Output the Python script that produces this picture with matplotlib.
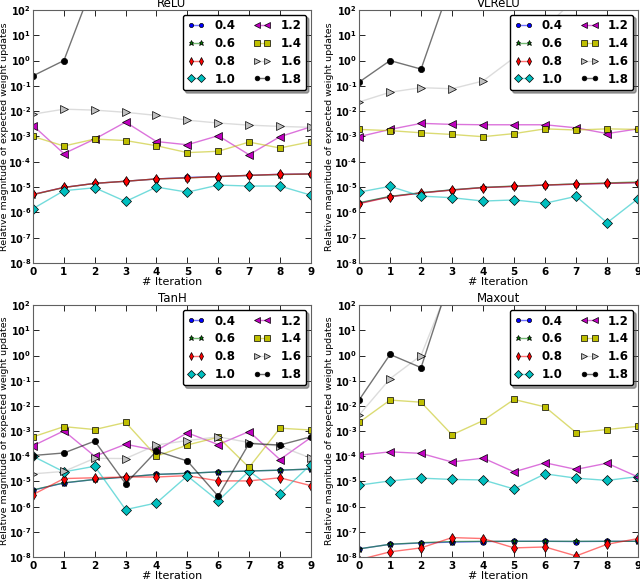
import numpy as np
import matplotlib
matplotlib.use("Agg")
from matplotlib import pyplot as plt
from matplotlib.colors import to_rgba

iters = np.arange(10)
labels = ['0.4', '0.6', '0.8', '1.0', '1.2', '1.4', '1.6', '1.8']
exponents = list(range(-8, 3))

# values (values above 1e2 / below 1e-8 are off the axes)
relu = {
    '0.4': [5.1e-6, 9.7e-6, 1.4e-5, 1.7e-5, 2.1e-5, 2.4e-5, 2.6e-5, 2.9e-5, 3.2e-5, 3.3e-5],
    '0.6': [5.0e-6, 9.6e-6, 1.4e-5, 1.7e-5, 2.1e-5, 2.3e-5, 2.6e-5, 2.9e-5, 3.1e-5, 3.3e-5],
    '0.8': [5.1e-6, 9.7e-6, 1.4e-5, 1.7e-5, 2.1e-5, 2.3e-5, 2.6e-5, 2.9e-5, 3.2e-5, 3.3e-5],
    '1.0': [1.4e-6, 7.2e-6, 9.4e-6, 2.7e-6, 1.0e-5, 6.3e-6, 1.2e-5, 1.1e-5, 1.1e-5, 4.8e-6],
    '1.2': [2.7e-3, 2.1e-4, 7.9e-4, 3.7e-3, 6.3e-4, 4.7e-4, 1.07e-3, 1.9e-4, 9.8e-4, 2.4e-3],
    '1.4': [1.0e-3, 4.2e-4, 7.9e-4, 6.9e-4, 4.3e-4, 2.3e-4, 2.6e-4, 6.0e-4, 3.5e-4, 6.2e-4],
    '1.6': [7.6e-3, 1.2e-2, 1.1e-2, 9.0e-3, 6.8e-3, 4.4e-3, 3.4e-3, 2.8e-3, 2.5e-3, 2.3e-3],
    '1.8': [0.25, 1.0, 1.6e3, 1e5, 1e7, 1e9, 1e11, 1e13, 1e15, 1e17],
}
vlrelu = {
    '0.4': [2.3e-6, 4.2e-6, 5.9e-6, 7.7e-6, 9.6e-6, 1.07e-5, 1.2e-5, 1.3e-5, 1.4e-5, 1.5e-5],
    '0.6': [2.4e-6, 4.3e-6, 6.0e-6, 7.8e-6, 9.7e-6, 1.1e-5, 1.2e-5, 1.35e-5, 1.45e-5, 1.6e-5],
    '0.8': [2.2e-6, 4.1e-6, 5.8e-6, 7.6e-6, 9.5e-6, 1.06e-5, 1.2e-5, 1.3e-5, 1.4e-5, 1.5e-5],
    '1.0': [6.3e-6, 1.07e-5, 4.4e-6, 3.8e-6, 2.8e-6, 3.1e-6, 2.3e-6, 4.3e-6, 3.9e-7, 3.5e-6],
    '1.2': [9.8e-4, 1.9e-3, 3.3e-3, 3.0e-3, 2.9e-3, 2.9e-3, 2.9e-3, 2.2e-3, 1.3e-3, 2.0e-3],
    '1.4': [1.9e-3, 1.7e-3, 1.4e-3, 1.2e-3, 9.8e-4, 1.3e-3, 2.0e-3, 1.8e-3, 2.0e-3, 1.9e-3],
    '1.6': [2.3e-2, 5.6e-2, 8.5e-2, 7.7e-2, 0.156, 1.3, 20.0, 3e2, 1e4, 1e5],
    '1.8': [0.14, 1.0, 0.46, 1.5e3, 1e5, 1e7, 1e9, 1e11, 1e13, 1e15],
}
tanh = {
    '0.4': [4.5e-6, 8.7e-6, 1.2e-5, 1.5e-5, 1.9e-5, 2.1e-5, 2.4e-5, 2.6e-5, 2.8e-5, 3.1e-5],
    '0.6': [4.6e-6, 8.8e-6, 1.2e-5, 1.5e-5, 1.9e-5, 2.1e-5, 2.4e-5, 2.6e-5, 2.8e-5, 3.1e-5],
    '0.8': [3.0e-6, 1.3e-5, 1.4e-5, 1.5e-5, 1.5e-5, 1.7e-5, 1.05e-5, 1.05e-5, 1.4e-5, 6.8e-6],
    '1.0': [1.0e-4, 2.4e-5, 4.0e-5, 7.6e-7, 1.4e-6, 1.66e-5, 1.7e-6, 2.6e-5, 3.2e-6, 4.7e-5],
    '1.2': [2.6e-4, 1.02e-3, 1.0e-4, 3.0e-4, 1.7e-4, 8.5e-4, 2.9e-4, 9.6e-4, 7.4e-5, 5.5e-4],
    '1.4': [5.9e-4, 1.5e-3, 1.15e-3, 2.2e-3, 1.0e-4, 2.8e-4, 5.7e-4, 3.6e-5, 1.3e-3, 1.1e-3],
    '1.6': [2.0e-5, 2.5e-5, 8.3e-5, 8.1e-5, 2.8e-4, 4.2e-4, 5.9e-4, 3.5e-4, 2.5e-4, 8.5e-5],
    '1.8': [1.07e-4, 1.35e-4, 4.0e-4, 8.1e-6, 1.6e-4, 6.5e-5, 2.6e-6, 3.2e-4, 2.8e-4, 5.9e-4],
}
maxout = {
    '0.4': [2.1e-8, 3.2e-8, 3.6e-8, 3.9e-8, 4.1e-8, 4.2e-8, 4.2e-8, 4.1e-8, 4.2e-8, 4.2e-8],
    '0.6': [2.1e-8, 3.2e-8, 3.7e-8, 4.1e-8, 4.2e-8, 4.2e-8, 4.2e-8, 4.2e-8, 4.2e-8, 4.2e-8],
    '0.8': [7.8e-9, 1.6e-8, 2.3e-8, 5.9e-8, 5.4e-8, 2.3e-8, 2.5e-8, 1.1e-8, 3.2e-8, 5.4e-8],
    '1.0': [7.1e-6, 1.05e-5, 1.35e-5, 1.2e-5, 1.15e-5, 5.0e-6, 2.0e-5, 1.35e-5, 1.1e-5, 1.55e-5],
    '1.2': [1.1e-4, 1.5e-4, 1.3e-4, 5.9e-5, 8.5e-5, 2.4e-5, 5.5e-5, 3.0e-5, 5.3e-5, 1.5e-5],
    '1.4': [2.2e-3, 1.7e-2, 1.4e-2, 7.1e-4, 2.6e-3, 1.8e-2, 9.1e-3, 8.7e-4, 1.15e-3, 1.55e-3],
    '1.6': [4.3e-3, 0.12, 1.0, 1.2e3, 1e5, 1e7, 1e9, 1e11, 1e13, 1e15],
    '1.8': [1.7e-2, 1.1, 0.33, 2.0e3, 1e5, 1e7, 1e9, 1e11, 1e13, 1e15],
}

styles = {
    '0.4': ('b', 'o', 4),
    '0.6': ('g', '*', 5),
    '0.8': ('r', 'd', 5),
    '1.0': ('c', 'D', 5),
    '1.2': ('m', '<', 5.5),
    '1.4': ('y', 's', 5),
    '1.6': ('#c0c0c0', '>', 5.5),
    '1.8': ('k', 'o', 4.5),
}
classic = {'b': (0, 0, 1), 'g': (0, 0.5, 0), 'r': (1, 0, 0), 'c': (0, 0.75, 0.75),
           'm': (0.75, 0, 0.75), 'y': (0.75, 0.75, 0), 'k': (0, 0, 0)}

panels = [('ReLU', relu), ('VLReLU', vlrelu), ('TanH', tanh), ('Maxout', maxout)]
positions = [
    [0.0516, 0.5458, 0.434, 0.437],
    [0.561, 0.5458, 0.436, 0.437],
    [0.0516, 0.038, 0.434, 0.435],
    [0.561, 0.038, 0.436, 0.435],
]


def exp_label(e):
    # hyphen instead of the wide math minus, like the original figure
    sign = r'\text{-}' if e < 0 else ''
    return r'$\mathbf{10}^{%s\mathbf{%d}}$' % (sign, abs(e))


fig = plt.figure(figsize=(6.4, 5.79), dpi=100)

for (title, data), pos in zip(panels, positions):
    ax = fig.add_axes(pos)
    for lab in labels:
        col, mk, ms = styles[lab]
        c = classic.get(col, col)
        line_col = to_rgba(c, 0.55)
        ax.plot(iters, data[lab], color=line_col, lw=1, marker=mk, ms=ms,
                markerfacecolor=c, markeredgecolor='k', markeredgewidth=0.5, label=lab)
    ax.set_yscale('log')
    ax.set_ylim(1e-8, 1e2)
    ax.set_xlim(0, 9)
    ax.set_xticks(iters)
    ax.set_xticklabels([str(i) for i in iters], fontweight='bold', fontsize=7.5)
    ax.set_yticks(10.0 ** np.array(exponents))
    ax.set_yticklabels([exp_label(e) for e in exponents], fontsize=7, fontweight='bold')
    ax.tick_params(which='both', direction='in', top=True, right=True)
    ax.tick_params(axis='y', pad=1.5)
    ax.tick_params(axis='x', pad=3)
    ax.tick_params(which='major', length=4, width=0.6)
    ax.tick_params(which='minor', length=2, width=0.5)
    for sp in ax.spines.values():
        sp.set_color('#606060')
    ax.set_title(title, fontsize=8.5, pad=2)
    ax.set_xlabel('# Iteration', fontsize=8, labelpad=0)
    ax.set_ylabel('Relative magnitude of expected weight updates', fontsize=6.8)
    ax.yaxis.set_label_coords(-0.088, 0.5)
    leg = ax.legend(loc='upper right', ncol=2, fancybox=True, shadow=True,
                    numpoints=2, handlelength=1.5, columnspacing=1.5,
                    handletextpad=0.8, markerscale=0.75,
                    prop={'size': 8.5, 'weight': 'bold'}, borderaxespad=0.4,
                    framealpha=1, labelspacing=0.4, borderpad=0.4)
    leg.get_frame().set_edgecolor('k')

fig.savefig('out.png', dpi=100)
